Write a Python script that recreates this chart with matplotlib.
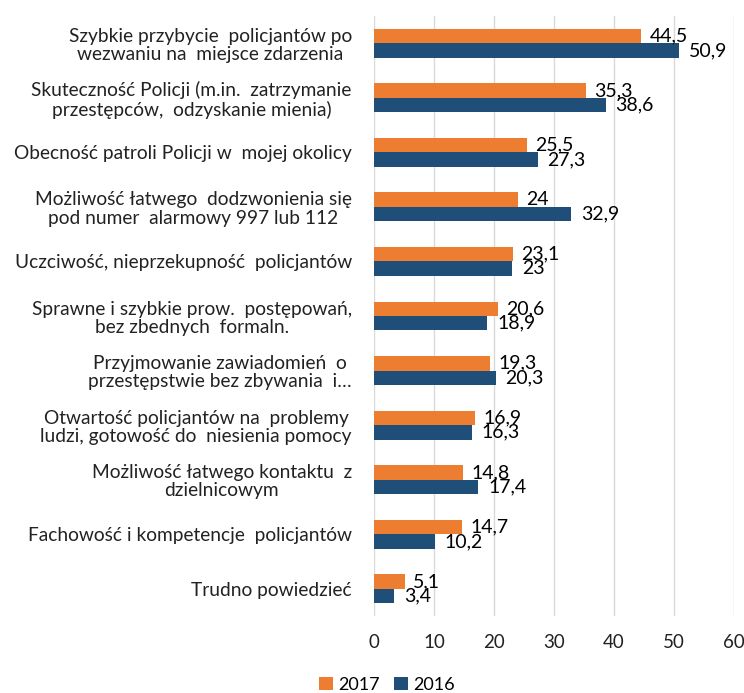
import matplotlib.pyplot as plt
import numpy as np

categories = [
    "Szybkie przybycie  policjantów po\nwezwaniu na  miejsce zdarzenia",
    "Skuteczność Policji (m.in.  zatrzymanie\nprzestępców,  odzyskanie mienia)",
    "Obecność patroli Policji w  mojej okolicy",
    "Możliwość łatwego  dodzwonienia się\npod numer  alarmowy 997 lub 112",
    "Uczciwość, nieprzekupność  policjantów",
    "Sprawne i szybkie prow.  postępowań,\nbez zbednych  formaln.",
    "Przyjmowanie zawiadomień  o\nprzestępstwie bez zbywania  i…",
    "Otwartość policjantów na  problemy\nludzi, gotowość do  niesienia pomocy",
    "Możliwość łatwego kontaktu  z\ndzielnicowym",
    "Fachowość i kompetencje  policjantów",
    "Trudno powiedzieć",
]
values_2017 = [44.5, 35.3, 25.5, 24, 23.1, 20.6, 19.3, 16.9, 14.8, 14.7, 5.1]
values_2016 = [50.9, 38.6, 27.3, 32.9, 23, 18.9, 20.3, 16.3, 17.4, 10.2, 3.4]
x_ticks = [0, 10, 20, 30, 40, 50, 60]

plt.rcParams['font.family'] = ['Lato', 'DejaVu Sans']
color_2017 = '#ED7D31'
color_2016 = '#1F4E79'

fig = plt.figure(figsize=(7.44, 6.93), dpi=100)
ax = fig.add_axes([0.5027, 0.111, 0.484, 0.866])

y = np.arange(len(categories))
h = 0.265
ax.barh(y - h / 2, values_2017, height=h, color=color_2017, label='2017', zorder=3)
ax.barh(y + h / 2, values_2016, height=h, color=color_2016, label='2016', zorder=3)


def fmt(v):
    return ('%g' % v).replace('.', ',')


for yi, v in zip(y, values_2017):
    ax.annotate(fmt(v), (v, yi - h / 2), xytext=(6, 0), textcoords='offset points',
                va='center', ha='left', fontsize=14, color='black', zorder=4)
for yi, v in zip(y, values_2016):
    ax.annotate(fmt(v), (v, yi + h / 2), xytext=(7, 0), textcoords='offset points',
                va='center', ha='left', fontsize=14, color='black', zorder=4)

ax.set_xlim(0, 60)
ax.set_ylim(len(categories) - 0.5, -0.5)
ax.set_xticks(x_ticks)
ax.set_yticks(y)
ax.set_yticklabels(categories, multialignment='center', linespacing=1.08)
ax.tick_params(axis='x', length=0, labelsize=13.5, colors='#222222', pad=13)
ax.tick_params(axis='y', length=0, labelsize=13.8, colors='#222222', pad=16)
ax.grid(axis='x', color='#D9D9D9', linewidth=1, zorder=0)
for s in ax.spines.values():
    s.set_visible(False)

fig.legend(loc='center', bbox_to_anchor=(0.52, 0.012), ncol=2, frameon=False,
           fontsize=13, handlelength=0.75, handleheight=0.75, handletextpad=0.3,
           columnspacing=0.8)

fig.savefig('out.png', dpi=100)
